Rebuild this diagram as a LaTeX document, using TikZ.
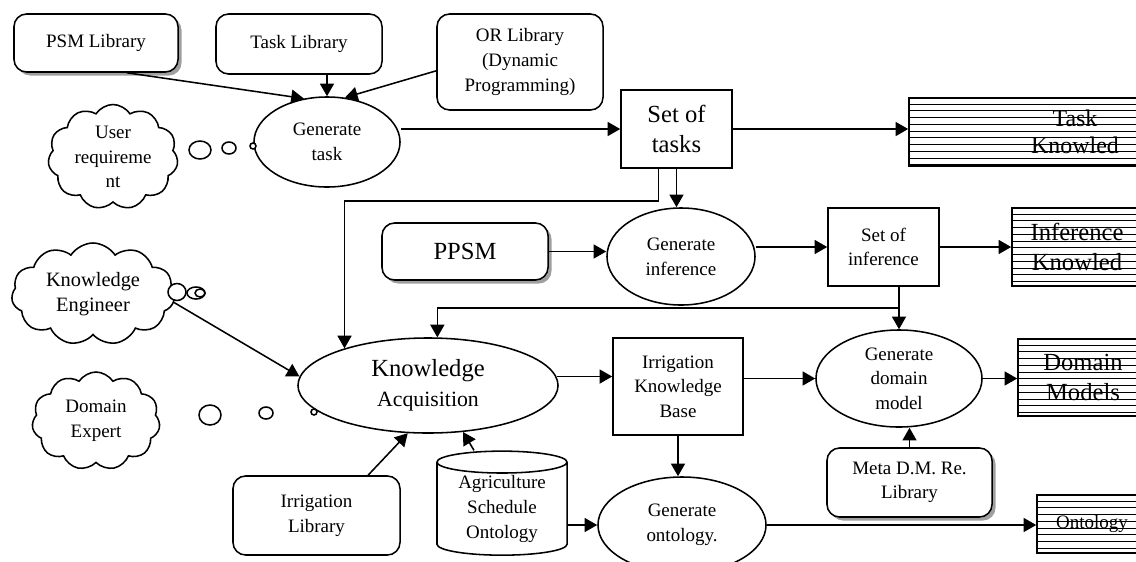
\documentclass[tikz,border=0pt]{standalone}
\usepackage{fontspec}
\setmainfont{Liberation Serif}
\usetikzlibrary{arrows.meta,shapes.geometric,shapes.symbols,shadows,calc}

\tikzset{
  txt/.style={font=\fontsize{13.5}{17.5}\selectfont},
  bigtxt/.style={font=\fontsize{17.5}{21}\selectfont},
  lib/.style={draw, rounded corners=9pt, fill=white, align=center, inner sep=0pt, txt},
  shlib/.style={lib, drop shadow={shadow xshift=2.5pt, shadow yshift=-2.5pt, fill=gray!75, opacity=1}},
  proc/.style={draw, ellipse, align=center, inner sep=0pt, txt},
  store/.style={draw, rectangle, align=center, inner sep=0pt, txt},
  result/.style={draw, rectangle, align=center, inner sep=0pt, bigtxt},
  agent/.style={draw, cloud, cloud puffs=11, cloud puff arc=115, cloud ignores aspect,
    align=center, inner sep=0pt, txt},
  bubble/.style={draw, fill=white},
  hatch/.style={line width=.6pt},
}

\begin{document}
\begin{tikzpicture}[x=0.025cm, y=-0.025cm, line width=1.1pt]
  \clip (0,0) rectangle (1136,561);
  \node[shlib, minimum width=4.1cm, minimum height=1.45cm] (psm) at (96,43) {PSM Library};
  \node[lib, minimum width=4.15cm, minimum height=1.5cm] (tasklib) at (299,44) {Task Library};
  \node[lib, minimum width=4.15cm, minimum height=2.4cm] (orlib) at (520,62) {OR Library\\(Dynamic\\Programming)};
  \node[proc, minimum width=3.65cm, minimum height=2.25cm] (gtask) at (327,142) {Generate\\task};
  \node[agent, minimum width=3.25cm, minimum height=2.625cm] (user) at (113,157) {User\\requireme\\nt};
  \node[store, bigtxt, minimum width=2.775cm, minimum height=1.95cm] (settasks) at (676.5,129) {Set of\\tasks};
  \node[result, font=\fontsize{17}{19.5}\selectfont, minimum width=8.3cm, minimum height=1.7cm] (taskknow) at (1075,132) {Task\\Knowled};
  \node[agent, font=\fontsize{14.5}{18}\selectfont, minimum width=4.075cm, minimum height=2.55cm] (keng) at (93,294) {Knowledge\\Engineer};
  \node[shlib, bigtxt, minimum width=4.15cm, minimum height=1.425cm] (ppsm) at (465,251.5) {PPSM};
  \node[proc, minimum width=3.7cm, minimum height=2.425cm] (geninf) at (681,256.5) {Generate\\inference};
  \node[store, minimum width=2.775cm, minimum height=1.95cm] (setinf) at (883.5,247) {Set of\\inference};
  \node[result, minimum width=3.25cm, minimum height=1.95cm] (infknow) at (1077,247) {Inference\\Knowled};
  \node[agent, minimum width=3.2cm, minimum height=2.45cm] (dexp) at (96,421) {Domain\\Expert};
  \node[proc, bigtxt, minimum width=6.5cm, minimum height=2.375cm] (ka) at (428,385.5) {Knowledge\\{\fontsize{15.5}{19}\selectfont Acquisition}};
  \node[store, minimum width=3.25cm, minimum height=2.425cm] (ikb) at (678,386.5) {Irrigation\\Knowledge\\Base};
  \node[proc, minimum width=4.15cm, minimum height=2.425cm] (gdm) at (899,378.5) {Generate\\domain\\model};
  \node[result, minimum width=3.25cm, minimum height=1.925cm] (dmodels) at (1083,377.5) {Domain\\Models};
  \node[shlib, minimum width=4.125cm, minimum height=1.725cm] (meta) at (909.5,482.5) {Meta D.M. Re.\\Library};
  \node[lib, minimum width=4.175cm, minimum height=1.975cm] (irrlib) at (316.5,515.5) {Irrigation\\Library};
  \node[draw, cylinder, shape border rotate=90, aspect=0.25, align=center, inner sep=0pt, txt,
    minimum width=3.25cm, minimum height=2.6cm] (agro) at (502,509) {Agriculture\\Schedule\\Ontology};
  \node[proc, minimum width=4.2cm, minimum height=2.4cm] (genont) at (682,525) {Generate\\ontology.};
  \node[result, txt, minimum width=2.75cm, minimum height=1.45cm] (onto) at (1092,524) {Ontology};

  \foreach \n in {taskknow,infknow,dmodels,onto} {
    \begin{scope}
      \clip (\n.north west) rectangle (\n.south east);
      \foreach \k in {1,...,14}
        \draw[hatch] ([yshift=-\k*4.8pt]\n.north west) -- ([yshift=-\k*4.8pt]\n.north east);
    \end{scope}
  }

  \draw[bubble] (200,150) ellipse [x radius=11, y radius=9];
  \draw[bubble] (229,148) ellipse [x radius=7, y radius=6];
  \draw[bubble] (253,146) circle [radius=3];
  \draw[bubble] (177,292) ellipse [x radius=9, y radius=8.5];
  \draw[bubble] (196,293) ellipse [x radius=9, y radius=6];
  \draw[bubble] (200,293) ellipse [x radius=5, y radius=4];
  \draw[bubble] (210,415) ellipse [x radius=11, y radius=10];
  \draw[bubble] (266,413) ellipse [x radius=7, y radius=6];
  \draw[bubble] (314,412) circle [radius=3];

  \coordinate (infsplit) at ($(gdm.north |- setinf.south)!.5!(gdm.north)$);
  \begin{scope}[-{Triangle[length=9pt,width=10pt]}]
    \draw (psm.-44) -- (gtask.118);
    \draw (gtask.north |- tasklib.south) -- (gtask.north);
    \draw (orlib.186) -- (gtask.68);
    \draw (gtask.east |- settasks.west) -- (settasks.west);
    \draw (settasks.east) -- (settasks.east -| taskknow.west);
    \draw (settasks.south) -- (settasks.south |- geninf.north);
    \draw (settasks.south) ++(-18,0) -- ++(0,32) -| (ka.156);
    \draw (ppsm.east) -- (ppsm.east -| geninf.west);
    \draw (geninf.east |- setinf.west) -- (setinf.west);
    \draw (setinf.east) -- (setinf.east -| infknow.west);
    \draw (gdm.north |- setinf.south) -- (gdm.north);
    \draw (infsplit) -| (ka.79);
    \draw (keng.-6) -- (ka.176);
    \draw (irrlib.38) -- (ka.247);
    \draw (agro.north) ++(-28,0) -- (ka.-53);
    \draw (ka.4) -- (ka.4 -| ikb.west);
    \draw (ikb.east |- gdm.west) -- (gdm.west);
    \draw (ikb.south) -- (ikb.south |- genont.north);
    \draw (agro.east |- genont.west) -- (genont.west);
    \draw (gdm.east) -- (gdm.east -| dmodels.west);
    \draw (meta.north) -- (meta.north |- gdm.south);
    \draw (genont.east) -- (genont.east -| onto.west);
  \end{scope}
\end{tikzpicture}
\end{document}
